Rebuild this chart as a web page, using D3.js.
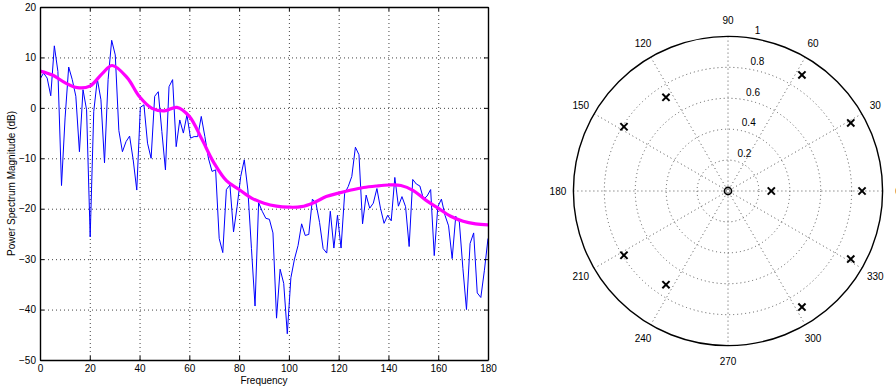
<!DOCTYPE html>
<html>
<head>
<meta charset="utf-8">
<script src="https://cdn.jsdelivr.net/npm/d3@7"></script>
<style>
  html, body { margin: 0; padding: 0; background: #fff; }
  svg { display: block; }
  text { font-family: "Liberation Sans", Arial, Helvetica, sans-serif; font-size: 10px; fill: #000; }
</style>
</head>
<body>
<svg id="chart" width="896" height="389"></svg>
<script>
// ---------- DATA ----------
// Periodogram (blue) – values in dB at evenly spaced frequency bins 0..180
const spectrumDb = [
  5.7, 6.9, 5.9, 2.4, 12.3, 7.2, -15.4, -2, 8.1, 5.6,
  2.3, -8.7, 3.6, -0.4, -25.6, -0.7, 5.7, 1.6, -10.9, 5.6,
  13.4, 10.5, -4.5, -8.7, -6.7, -5.6, -10.3, -16.3, 0.1, 0.6,
  -7.0, -10.0, 2.3, 3.2, -4.7, -12.3, 4.2, 5.6, -7.7, -2.4,
  -5.0, -1.4, -6.0, -5.7, -5.7, -1.7, -5.7, -10.0, -12.6, -12.3,
  -25.9, -28.7, -16.2, -15.3, -24.6, -19.6, -13.6, -10.3, -16.3, -27.9,
  -39.3, -18.8, -20.5, -21.9, -22.1, -24.8, -41.7, -32.0, -34.8, -44.8,
  -33.7, -30.0, -27.3, -23.0, -25.3, -25.1, -18.1, -18.9, -22.7, -27.9,
  -28.8, -20.5, -27.8, -21.3, -27.8, -17.0, -15.6, -13.6, -7.8, -9.3,
  -23.0, -17.3, -19.9, -18.9, -16.0, -19.9, -22.9, -21.3, -22.4, -13.8,
  -19.5, -17.6, -19.6, -27.5, -14.2, -15.1, -15.5, -18.1, -17.5, -16.2,
  -29.3, -19.6, -18.1, -21.3, -23.4, -29.9, -21.5, -22.6, -31.9, -40.0,
  -26.9, -24.8, -36.7, -37.6, -32.2, -25.9
];
const freqMax = 180;

// Model spectrum (magenta) read at selected frequencies
const modelFreq = [0, 5, 10, 15, 20, 25, 29, 35, 40, 45, 50, 55, 60, 65, 70, 75, 80, 85, 90,
  95, 100, 105, 110, 115, 120, 125, 130, 135, 140, 145, 150, 155, 160, 165, 170, 175, 180];
const modelDb = [7.3, 6.5, 5.0, 4.0, 4.3, 6.8, 8.4, 6.0, 2.2, -0.1, -0.6, 0.1, -1.7, -6.2, -11.0, -14.5, -16.2, -17.9, -18.9,
  -19.5, -19.7, -19.6, -18.8, -17.6, -16.9, -16.3, -15.8, -15.5, -15.3, -15.4, -16.4, -18.3, -19.9, -21.5, -22.5, -23.0, -23.2];

const xTicks = [0, 20, 40, 60, 80, 100, 120, 140, 160, 180];
const yTicks = [-50, -40, -30, -20, -10, 0, 10, 20];

// Pole/zero plot
const poleRadius = [0.28, 0.867, 0.908, 0.908, 0.89, 0.89, 0.727, 0.727, 0.791, 0.791];
const poleAngleDeg = [0, 0, 29, -29, 57.5, -57.5, 123.5, -123.5, 148.3, -148.3];
const zeroRadius = [0];
const zeroAngleDeg = [0];
const ringTicks = [0.2, 0.4, 0.6, 0.8, 1];
const spokeAngles = [0, 30, 60, 90, 120, 150, 180, 210, 240, 270, 300, 330];

// ---------- LEFT: spectrum ----------
const svg = d3.select("#chart");
const L = { left: 40, right: 488, top: 7, bottom: 360 };
const x = d3.scaleLinear().domain([0, 180]).range([L.left, L.right]);
const y = d3.scaleLinear().domain([-50, 20]).range([L.bottom, L.top]);
const W = L.right - L.left, H = L.bottom - L.top;

const gridStyle = g => {
  g.select(".domain").remove();
  g.selectAll("line").attr("stroke", "#444").attr("stroke-width", 1).attr("stroke-dasharray", "1,3");
  g.selectAll("text").remove();
};
// grid (interior ticks only)
svg.append("g").attr("transform", `translate(0,${L.bottom})`)
  .call(d3.axisBottom(x).tickValues(xTicks.slice(1, -1)).tickSize(-H)).call(gridStyle);
svg.append("g").attr("transform", `translate(${L.left},0)`)
  .call(d3.axisLeft(y).tickValues(yTicks.slice(1, -1)).tickSize(-W)).call(gridStyle);

// clip for data
svg.append("clipPath").attr("id", "clipL").append("rect")
  .attr("x", L.left).attr("y", L.top).attr("width", W).attr("height", H);

const step = freqMax / (spectrumDb.length - 1);
const blueLine = d3.line().x((d, i) => x(i * step)).y(d => y(d));
svg.append("path").datum(spectrumDb).attr("clip-path", "url(#clipL)")
  .attr("d", blueLine).attr("fill", "none").attr("stroke", "#0000ff").attr("stroke-width", 1)
  .attr("stroke-linejoin", "round");

const magLine = d3.line().x((d, i) => x(modelFreq[i])).y(d => y(d)).curve(d3.curveCatmullRom);
svg.append("path").datum(modelDb).attr("clip-path", "url(#clipL)")
  .attr("d", magLine).attr("fill", "none").attr("stroke", "#ff00ff").attr("stroke-width", 3.2)
  .attr("stroke-linecap", "round");

// axes with inward ticks
const axStyle = g => {
  g.select(".domain").attr("stroke", "#000").attr("stroke-width", 1.4);
  g.selectAll(".tick line").attr("stroke", "#000").attr("stroke-width", 1);
  g.selectAll(".tick text").attr("font-family", null).attr("font-size", null).attr("fill", "#000");
};
const fmt = d => (d < 0 ? "\u2212" + Math.abs(d) : String(d));
svg.append("g").attr("transform", `translate(0,${L.bottom})`)
  .call(d3.axisBottom(x).tickValues(xTicks).tickSize(-4).tickSizeOuter(0).tickPadding(5).tickFormat(fmt)).call(axStyle);
svg.append("g").attr("transform", `translate(0,${L.top})`)
  .call(d3.axisTop(x).tickValues(xTicks).tickSize(-4).tickSizeOuter(0).tickFormat("")).call(axStyle);
svg.append("g").attr("transform", `translate(${L.left},0)`)
  .call(d3.axisLeft(y).tickValues(yTicks).tickSize(-4).tickSizeOuter(0).tickPadding(4).tickFormat(fmt)).call(axStyle);
svg.append("g").attr("transform", `translate(${L.right},0)`)
  .call(d3.axisRight(y).tickValues(yTicks).tickSize(-4).tickSizeOuter(0).tickFormat("")).call(axStyle);

svg.append("text").attr("x", (L.left + L.right) / 2).attr("y", 384)
  .attr("text-anchor", "middle").text("Frequency");
svg.append("text").attr("transform", `translate(15,${(L.top + L.bottom) / 2}) rotate(-90)`)
  .attr("text-anchor", "middle").text("Power Spectrum Magnitude (dB)");

// ---------- RIGHT: polar pole/zero ----------
const C = { x: 728, y: 191 };
const R = 154.6;
const r = d3.scaleLinear().domain([0, 1]).range([0, R]);
const rad = deg => deg * Math.PI / 180;
const px = (rv, deg) => C.x + r(rv) * Math.cos(rad(deg));
const py = (rv, deg) => C.y - r(rv) * Math.sin(rad(deg));

const P = svg.append("g");
// dotted rings
P.selectAll("circle.ring").data(ringTicks.slice(0, -1)).enter().append("circle")
  .attr("cx", C.x).attr("cy", C.y).attr("r", d => r(d))
  .attr("fill", "none").attr("stroke", "#555").attr("stroke-width", 1).attr("stroke-dasharray", "1,3");
// dotted spokes
P.selectAll("line.spoke").data(spokeAngles.slice(0, 6)).enter().append("line")
  .attr("x1", d => px(1, d + 180)).attr("y1", d => py(1, d + 180))
  .attr("x2", d => px(1, d)).attr("y2", d => py(1, d))
  .attr("stroke", "#555").attr("stroke-width", 1).attr("stroke-dasharray", "1,3");
// outer circle
P.append("circle").attr("cx", C.x).attr("cy", C.y).attr("r", r(1))
  .attr("fill", "none").attr("stroke", "#000").attr("stroke-width", 1.4);

// angle labels
P.selectAll("text.ang").data(spokeAngles).enter().append("text")
  .attr("x", d => px(1.1, d)).attr("y", d => py(1.1, d))
  .attr("text-anchor", "middle").attr("dy", "0.35em").text(d => d);
// radius labels at 82 degrees
P.selectAll("text.rl").data(ringTicks).enter().append("text")
  .attr("x", d => px(d + 0.01, 82) + 5).attr("y", d => py(d + 0.01, 82) - 2)
  .attr("text-anchor", "start").text(d => d);

// poles (x markers)
const ms = 3.6;
const poles = poleRadius.map((d, i) => ({ rr: d, a: poleAngleDeg[i] }));
const pg = P.selectAll("g.pole").data(poles).enter().append("g")
  .attr("transform", d => `translate(${px(d.rr, d.a)},${py(d.rr, d.a)})`);
pg.append("line").attr("x1", -ms).attr("y1", -ms).attr("x2", ms).attr("y2", ms)
  .attr("stroke", "#000").attr("stroke-width", 2);
pg.append("line").attr("x1", -ms).attr("y1", ms).attr("x2", ms).attr("y2", -ms)
  .attr("stroke", "#000").attr("stroke-width", 2);
// zeros (o markers)
P.selectAll("circle.zero").data(zeroRadius).enter().append("circle")
  .attr("cx", (d, i) => px(d, zeroAngleDeg[i])).attr("cy", (d, i) => py(d, zeroAngleDeg[i]))
  .attr("r", 3.6).attr("fill", "none").attr("stroke", "#000").attr("stroke-width", 1.6);
</script>
</body>
</html>
